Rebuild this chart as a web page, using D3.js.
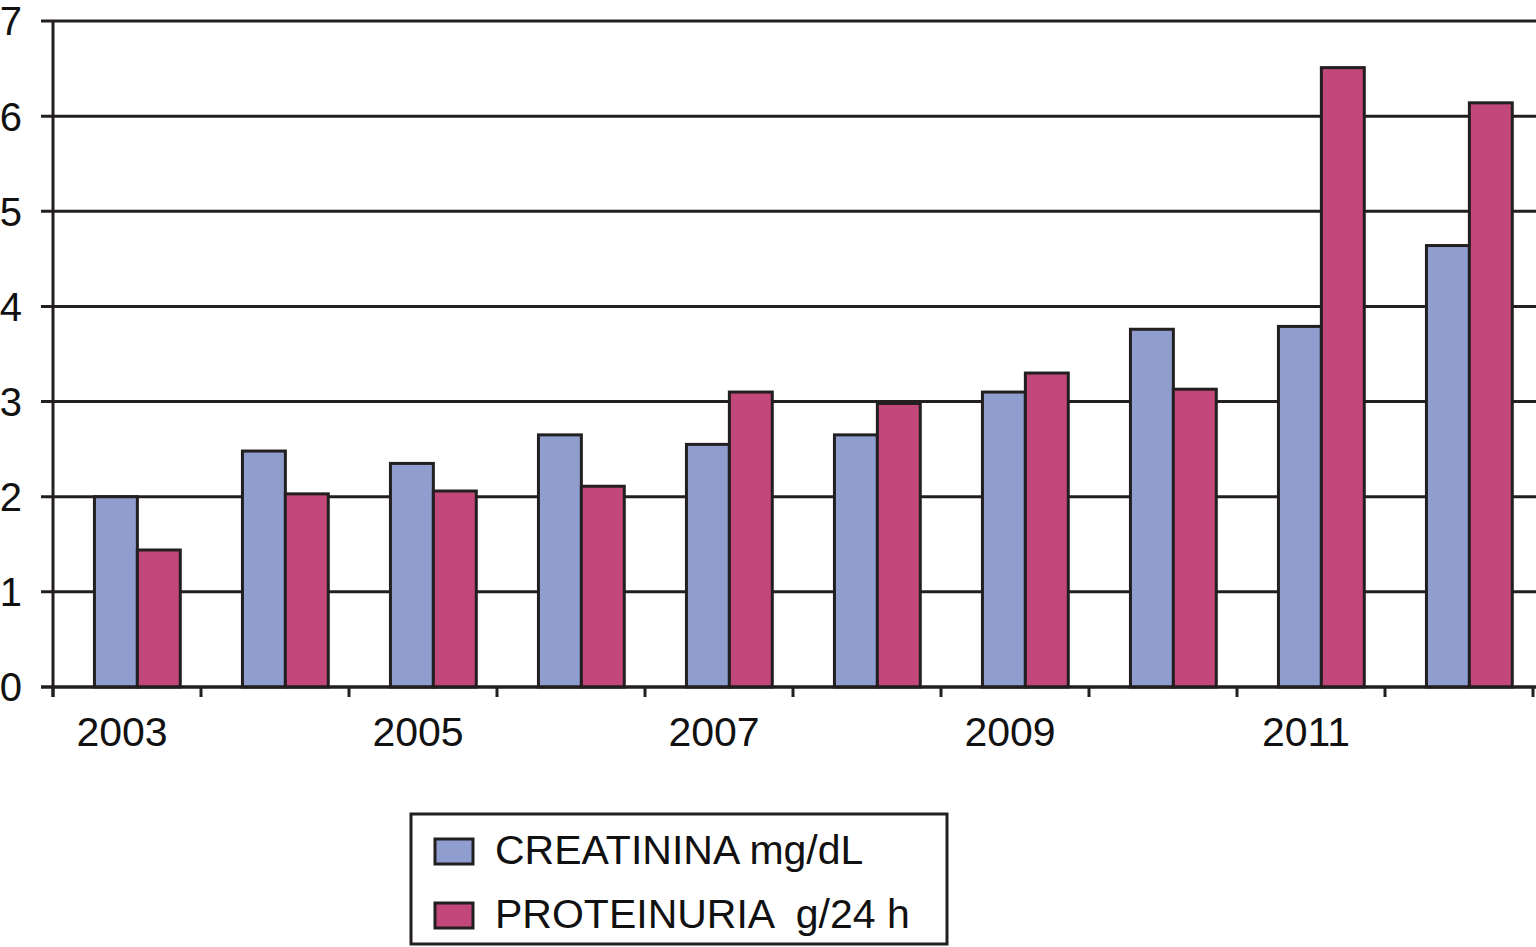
<!DOCTYPE html>
<html>
<head>
<meta charset="utf-8">
<script src="https://cdn.jsdelivr.net/npm/d3@7"></script>
<style>
  html, body { margin: 0; padding: 0; background: #fff; }
  svg { display: block; font-family: "Liberation Sans", Arial, sans-serif; }
</style>
</head>
<body>
<svg id="chart" width="1536" height="947"></svg>
<script>
const years = ["2003", "2004", "2005", "2006", "2007", "2008", "2009", "2010", "2011", "2012"];
const yearLabels = ["2003", "2005", "2007", "2009", "2011"];
const creatinina = [2.0, 2.48, 2.35, 2.65, 2.55, 2.65, 3.1, 3.76, 3.79, 4.64];
const proteinuria = [1.44, 2.03, 2.06, 2.11, 3.1, 2.98, 3.3, 3.13, 6.51, 6.14];
const yTicks = [0, 1, 2, 3, 4, 5, 6, 7];
const seriesNames = ["CREATININA mg/dL", "PROTEINURIA  g/24 h"];
const colors = ["#8f9ecf", "#c2477a"];
const ink = "#231f20";

const svg = d3.select("#chart");
const plotLeft = 53, plotRight = 1533, plotTop = 21, plotBottom = 687;

const x = d3.scaleBand().domain(years).range([plotLeft, plotRight]).padding(0);
const y = d3.scaleLinear().domain([0, 7]).range([plotBottom, plotTop]);
const bw = x.bandwidth();

// gridlines with left ticks
svg.append("g")
  .selectAll("line")
  .data(yTicks)
  .join("line")
  .attr("x1", plotLeft - 12)
  .attr("x2", 1536)
  .attr("y1", (d) => y(d))
  .attr("y2", (d) => y(d))
  .attr("stroke", ink)
  .attr("stroke-width", 3);

svg.append("g")
  .selectAll("text")
  .data(yTicks)
  .join("text")
  .attr("x", 22)
  .attr("y", (d) => y(d))
  .attr("dy", "0.36em")
  .attr("text-anchor", "end")
  .attr("font-size", 40)
  .attr("fill", "#111")
  .text((d) => d);

// bars
const series = [creatinina, proteinuria];
series.forEach((values, si) => {
  svg.append("g")
    .selectAll("rect")
    .data(values)
    .join("rect")
    .attr("x", (d, i) => x(years[i]) + bw * 0.28 + si * bw * 0.29)
    .attr("width", bw * 0.29)
    .attr("y", (d) => y(d))
    .attr("height", (d) => y(0) - y(d))
    .attr("fill", colors[si])
    .attr("stroke", ink)
    .attr("stroke-width", 3);
});

// axis lines
svg.append("line")
  .attr("x1", plotLeft).attr("x2", plotLeft)
  .attr("y1", plotTop).attr("y2", plotBottom + 10)
  .attr("stroke", ink).attr("stroke-width", 3);

svg.append("line")
  .attr("x1", plotLeft - 12).attr("x2", 1536)
  .attr("y1", plotBottom).attr("y2", plotBottom)
  .attr("stroke", ink).attr("stroke-width", 3);

// x ticks at band boundaries
const boundaries = years.map((d) => x(d)).concat([plotRight]);
svg.append("g")
  .selectAll("line")
  .data(boundaries)
  .join("line")
  .attr("x1", (d) => d).attr("x2", (d) => d)
  .attr("y1", plotBottom).attr("y2", plotBottom + 10)
  .attr("stroke", ink).attr("stroke-width", 3);

svg.append("g")
  .selectAll("text")
  .data(yearLabels)
  .join("text")
  .attr("x", (d) => x(d) + bw / 2 - 5)
  .attr("y", 746)
  .attr("text-anchor", "middle")
  .attr("font-size", 41)
  .attr("fill", "#111")
  .text((d) => d);

// legend
const legend = svg.append("g");
legend.append("rect")
  .attr("x", 411).attr("y", 814)
  .attr("width", 536).attr("height", 130)
  .attr("fill", "#fff")
  .attr("stroke", ink).attr("stroke-width", 3);

seriesNames.forEach((name, i) => {
  const ly = 839 + i * 64;
  legend.append("rect")
    .attr("x", 435).attr("y", ly)
    .attr("width", 38).attr("height", 25)
    .attr("fill", colors[i])
    .attr("stroke", ink).attr("stroke-width", 3);
  legend.append("text")
    .attr("x", 495).attr("y", ly + 25)
    .attr("font-size", 41)
    .attr("fill", "#111")
    .style("white-space", "pre")
    .text(name);
});
</script>
</body>
</html>
